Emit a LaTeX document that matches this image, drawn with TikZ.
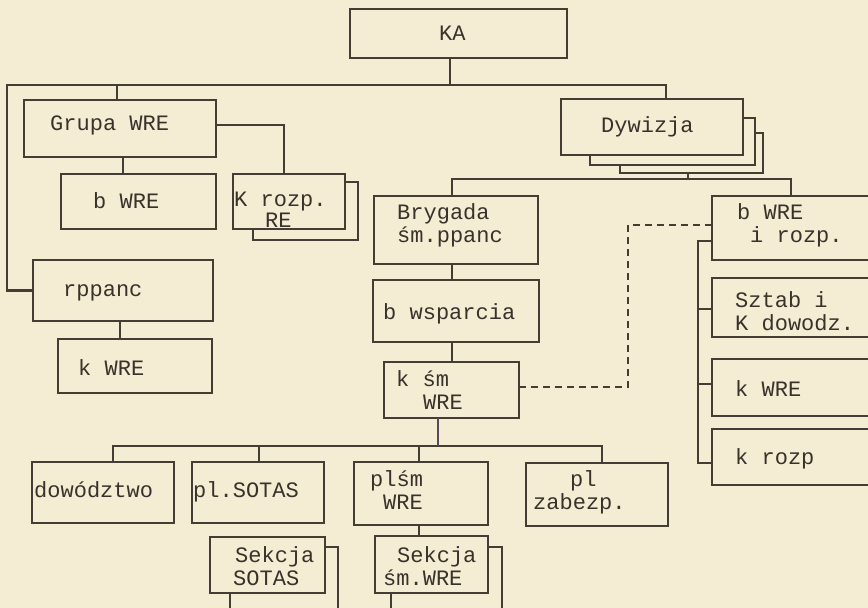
\documentclass[tikz,border=0pt]{standalone}
\usepackage{fontspec}
\setmonofont{Liberation Mono}
\usetikzlibrary{calc}
\definecolor{paper}{HTML}{F4ECD3}
\definecolor{ink}{HTML}{443D34}
\definecolor{txt}{HTML}{38322B}
\definecolor{pen}{HTML}{5B4560}
\tikzset{
  box/.style={draw=ink, line width=2.8pt, fill=paper, inner sep=0pt, outer sep=0pt},
  lbl/.style={text=txt, font=\ttfamily\fontsize{22}{22.5}\selectfont, inner sep=0pt, anchor=base west, align=left},
  conn/.style={draw=ink, line width=2.8pt},
  dashconn/.style={conn, dash pattern=on 7pt off 5pt},
  penconn/.style={draw=pen, line width=2.2pt},
}
\newcommand\bx[5]{\node[box, minimum width={#4-#2}, minimum height={#5-#3}] (#1) at ({(#2+#4)/2},{(#3+#5)/2}) {};}
\begin{document}
\begin{tikzpicture}[x=1pt,y=-1pt]
\fill[paper] (0,0) rectangle (868,608);
\useasboundingbox (0,0) rectangle (868,608);
\clip (0,0) rectangle (868,608);

% boxes
\bx{ka}{350}{9}{567}{58}
\bx{grupa}{24}{100}{216}{157}
\bx{bwre1}{61}{174}{216}{229}
\bx{krozpS}{253}{182}{358}{240}
\bx{krozp}{233}{174}{345}{229}
\bx{rppanc}{33}{260}{213}{321}
\bx{kwre1}{58}{339}{212}{393}
\bx{dys3}{620}{133}{763}{173}
\bx{dys2}{590}{118}{755}{165}
\bx{dyw}{561}{99}{743}{155}
\bx{bryg}{374}{196}{538}{264}
\bx{bwsp}{373}{280}{539}{342}
\bx{ksm}{384}{362}{519}{418}
\bx{bwrei}{712}{196}{900}{260}
\bx{sztab}{712}{278}{900}{337}
\bx{kwre2}{712}{359}{900}{416}
\bx{krozp2}{712}{429}{900}{485}
\bx{dow}{32}{462}{174}{523}
\bx{sotas}{192}{462}{324}{523}
\bx{plsm}{354}{462}{488}{525}
\bx{plzab}{526}{463}{668}{526}
\bx{seksS}{230}{547}{338}{616}
\bx{seks}{210}{537}{325}{593}
\bx{seksmS}{391}{547}{502}{616}
\bx{seksm}{375}{536}{488}{593}

% labels (multi-line: base = last line's baseline)
\node[lbl] (tka) at (439,40) {KA};
\node[lbl] (tgrupa) at (50,130) {Grupa WRE};
\node[lbl] (tbwre1) at (93,208) {b WRE};
\node[lbl] (tkrozp) at (234,227) {K rozp.\\[-2pt]\hspace*{31pt}RE};
\node[lbl] (trppanc) at (63,296) {rppanc};
\node[lbl] (tkwre1) at (78,375) {k WRE};
\node[lbl] (tdyw) at (601,132) {Dywizja};
\node[lbl] (tbryg) at (397,242) {Brygada\\śm.ppanc};
\node[lbl] (tbwsp) at (383,319) {b wsparcia};
\node[lbl] (tksm) at (396,409) {k śm\\\hspace*{27pt}WRE};
\node[lbl] (tbwrei) at (737,242) {b WRE\\\hspace*{13pt}i rozp.};
\node[lbl] (tsztab) at (735,330) {Sztab i\\K dowodz.};
\node[lbl] (tkwre2) at (735,396) {k WRE};
\node[lbl] (tkrozp2) at (735,464) {k rozp};
\node[lbl] (tdow) at (34,497) {dowództwo};
\node[lbl] (tsotas) at (193,497) {pl.SOTAS};
\node[lbl] (tplsm) at (370,509) {plśm\\\hspace*{13pt}WRE};
\node[lbl] (tplzab) at (533,509) {\hspace*{37pt}pl\\zabezp.};
\node[lbl] (tseks) at (233,585) {\hspace*{2pt}Sekcja\\SOTAS};
\node[lbl] (tseksm) at (383,585) {\hspace*{14pt}Sekcja\\śm.WRE};

% junction coordinates
\coordinate (bl) at (7,85);
\coordinate (jD) at (666,85);
\coordinate (jKA) at (450,85);
\coordinate (jG) at (117,85);
\coordinate (xG) at (123,0);
\coordinate (jK) at (284,125);
\coordinate (xR) at (120,0);
\coordinate (jDv) at (688,179);
\coordinate (jB) at (452,179);
\coordinate (jR) at (791,179);
\coordinate (dA) at (628,387);
\coordinate (dB) at (628,225);
\coordinate (r1) at (698,241);
\coordinate (r2) at (698,309);
\coordinate (r3) at (698,384);
\coordinate (r4) at (698,463);
\coordinate (b1) at (113,446);
\coordinate (b2) at (259,446);
\coordinate (b3) at (419,446);
\coordinate (b4) at (602,446);
\coordinate (bk) at (438,446);

% connectors
\draw[conn] (jKA |- ka.south) -- (jKA);
\draw[conn] (rppanc.west) -| (bl) -- (jD) -- (jD |- dyw.north);
\draw[conn] (jG) -- (jG |- grupa.north);
\draw[conn] (xG |- grupa.south) -- (xG |- bwre1.north);
\draw[conn] (grupa.east |- jK) -- (jK) -- (jK |- krozp.north);
\draw[conn] (xR |- rppanc.south) -- (xR |- kwre1.north);
\draw[conn] (jDv |- dys3.south) -- (jDv);
\draw[conn] (jB |- bryg.north) -- (jB) -- (jR) -- (jR |- bwrei.north);
\draw[conn] (jB |- bryg.south) -- (jB |- bwsp.north);
\draw[conn] (jB |- bwsp.south) -- (jB |- ksm.north);
\draw[dashconn] (ksm.east |- dA) -- (dA) -- (dB) -- (bwrei.west |- dB);
\draw[conn] (bwrei.west |- r1) -- (r1) -- (r4) -- (krozp2.west |- r4);
\draw[conn] (r2) -- (sztab.west |- r2);
\draw[conn] (r3) -- (kwre2.west |- r3);
\draw[conn] (b1 |- dow.north) -- (b1) -- (b4) -- (b4 |- plzab.north);
\draw[conn] (b2) -- (b2 |- sotas.north);
\draw[conn] (b3) -- (b3 |- plsm.north);
\draw[conn] (b3 |- plsm.south) -- (b3 |- seksm.north);
\draw[penconn] (bk |- ksm.south) -- (bk);
\end{tikzpicture}
\end{document}
